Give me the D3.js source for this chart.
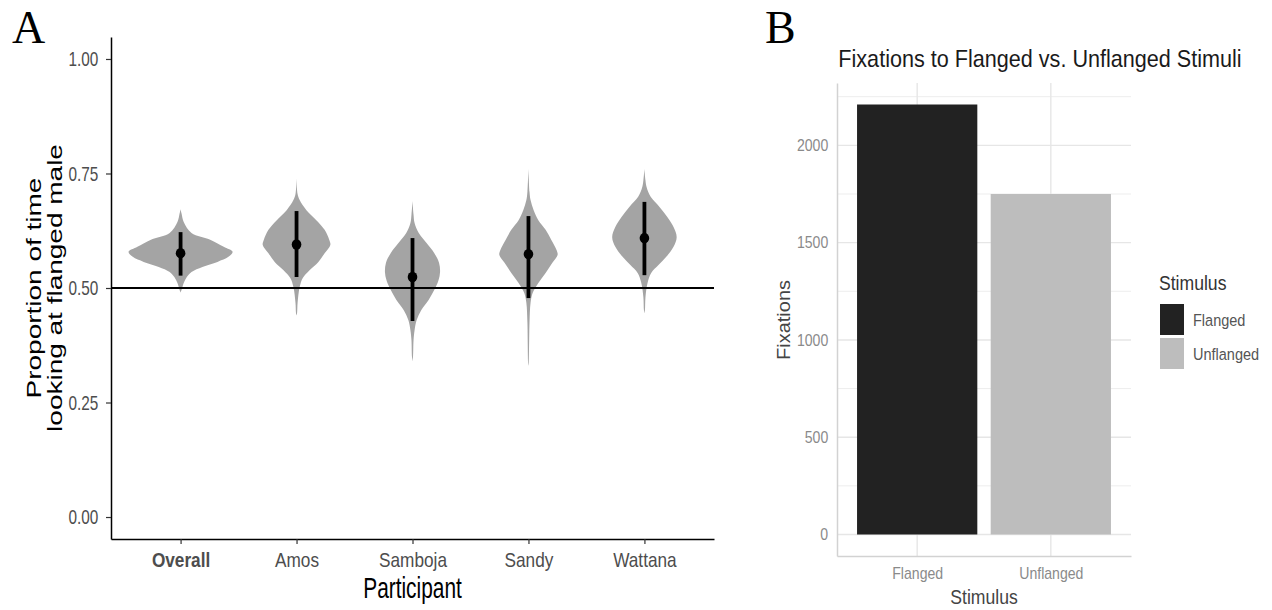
<!DOCTYPE html>
<html>
<head>
<meta charset="utf-8">
<script src="https://cdn.jsdelivr.net/npm/d3@7"></script>
<style>
  body { margin: 0; background: #fff; }
  svg text { font-family: "Liberation Sans", Arial, sans-serif; }
</style>
</head>
<body>
<svg id="chart" width="1272" height="610"></svg>
<script>
// ---- panel A data ----
const participants = ["Overall", "Amos", "Samboja", "Sandy", "Wattana"];
const means = [0.576, 0.595, 0.524, 0.574, 0.609];
const lower = [0.527, 0.524, 0.428, 0.478, 0.528];
const upper = [0.622, 0.668, 0.609, 0.657, 0.688];
const yTicksA = [0, 0.25, 0.5, 0.75, 1];

// violin profiles: [proportion, relative density]
const densOverall = [[0.672,0],[0.662,0.02],[0.644,0.06],[0.620,0.21],[0.605,0.58],[0.590,0.83],[0.579,1.0],[0.568,0.92],[0.557,0.71],[0.546,0.42],[0.535,0.21],[0.524,0.12],[0.511,0.06],[0.500,0.03],[0.490,0]];
const densAmos = [[0.740,0],[0.705,0.02],[0.692,0.06],[0.670,0.19],[0.648,0.38],[0.627,0.54],[0.605,0.63],[0.594,0.65],[0.576,0.54],[0.557,0.42],[0.539,0.25],[0.522,0.12],[0.502,0.06],[0.467,0.02],[0.445,0.01],[0.440,0]];
const densSamboja = [[0.690,0],[0.660,0.02],[0.642,0.04],[0.620,0.12],[0.598,0.27],[0.576,0.42],[0.555,0.51],[0.535,0.53],[0.517,0.50],[0.496,0.42],[0.474,0.31],[0.452,0.17],[0.430,0.08],[0.408,0.04],[0.386,0.02],[0.350,0.01],[0.340,0]];
const densSandy = [[0.760,0],[0.710,0.02],[0.692,0.04],[0.670,0.10],[0.648,0.19],[0.627,0.33],[0.605,0.44],[0.583,0.54],[0.572,0.56],[0.555,0.46],[0.533,0.33],[0.511,0.19],[0.489,0.08],[0.467,0.04],[0.424,0.02],[0.336,0.006],[0.330,0]];
const densWattana = [[0.760,0],[0.735,0.02],[0.721,0.04],[0.699,0.12],[0.677,0.29],[0.655,0.44],[0.633,0.56],[0.611,0.62],[0.590,0.56],[0.568,0.42],[0.550,0.27],[0.533,0.13],[0.511,0.06],[0.480,0.02],[0.452,0.01],[0.445,0]];
const violins = [densOverall, densAmos, densSamboja, densSandy, densWattana];

// ---- panel B data ----
const stimuli = ["Flanged", "Unflanged"];
const fixations = [2210, 1750];
const yTicksB = [0, 500, 1000, 1500, 2000];
const yMinorB = [250, 750, 1250, 1750, 2250];

const svg = d3.select('#chart');

// the source figure is squeezed horizontally, so text is too
function squeeze(sel, k) {
  sel.each(function() {
    const t = d3.select(this);
    const x = +t.attr('x') || 0, y = +t.attr('y') || 0;
    t.attr('x', 0).attr('y', 0)
     .attr('transform', 'translate(' + x + ',' + y + ') scale(' + k + ',1)');
  });
}

// ================= panel A =================
const kA = 0.73;
const yA = d3.scaleLinear().domain([-0.048, 1.048]).range([539, 37]);
const xA = d3.scalePoint().domain(participants).range([111, 714]).padding(0.6);
const wA = d3.scaleLinear().domain([0, 1]).range([0, 52]);

const violinArea = d3.area()
  .y(d => yA(d[0]))
  .x0(d => -wA(d[1]))
  .x1(d => wA(d[1]))
  .curve(d3.curveCatmullRom);

const gA = svg.append('g');

gA.selectAll('path.violin')
  .data(violins)
  .enter()
  .append('path')
  .attr('class', 'violin')
  .attr('transform', (d, i) => 'translate(' + xA(participants[i]) + ',0)')
  .attr('d', violinArea)
  .attr('fill', '#a4a4a4');

// reference line at 0.5
gA.append('line')
  .attr('x1', xA.range()[0]).attr('x2', xA.range()[1])
  .attr('y1', yA(0.5)).attr('y2', yA(0.5))
  .attr('stroke', '#000').attr('stroke-width', 2);

gA.selectAll('line.ci')
  .data(participants)
  .enter()
  .append('line')
  .attr('class', 'ci')
  .attr('x1', d => xA(d)).attr('x2', d => xA(d))
  .attr('y1', (d, i) => yA(lower[i]))
  .attr('y2', (d, i) => yA(upper[i]))
  .attr('stroke', '#000').attr('stroke-width', 3.8);

gA.selectAll('ellipse.mean')
  .data(participants)
  .enter()
  .append('ellipse')
  .attr('class', 'mean')
  .attr('cx', d => xA(d))
  .attr('cy', (d, i) => yA(means[i]))
  .attr('rx', 4.8).attr('ry', 5.2)
  .attr('fill', '#000');

const yAxisA = gA.append('g')
  .attr('transform', 'translate(111,0)')
  .call(d3.axisLeft(yA).tickValues(yTicksA).tickFormat(d3.format('.2f'))
        .tickSize(5).tickSizeOuter(0).tickPadding(12.5));
yAxisA.select('.domain').attr('stroke', '#000').attr('stroke-width', 1.5);
yAxisA.selectAll('.tick line').attr('stroke', '#333').attr('stroke-width', 1.2);
yAxisA.selectAll('.tick text')
  .attr('font-size', 21).attr('fill', '#4d4d4d')
  .attr('transform', 'scale(' + kA + ',1)');

const xAxisA = gA.append('g')
  .attr('transform', 'translate(0,539)')
  .call(d3.axisBottom(xA).tickSize(5).tickSizeOuter(0).tickPadding(8));
xAxisA.select('.domain').attr('stroke', '#000').attr('stroke-width', 1.5);
xAxisA.selectAll('.tick line').attr('stroke', '#333').attr('stroke-width', 1.2);
xAxisA.selectAll('.tick text')
  .attr('font-size', 21).attr('fill', '#4d4d4d')
  .attr('font-weight', d => d === 'Overall' ? 'bold' : 'normal')
  .attr('transform', 'scale(0.82,1)');

gA.append('text')
  .attr('x', 412.5).attr('y', 598)
  .attr('text-anchor', 'middle')
  .attr('font-size', 29).attr('fill', '#000')
  .text('Participant')
  .call(squeeze, 0.72);

const yTitleA = ['Proportion of time', 'looking at flanged male'];
gA.selectAll('text.ytitle')
  .data(yTitleA)
  .enter()
  .append('text')
  .attr('class', 'ytitle')
  .attr('text-anchor', 'middle')
  .attr('font-size', 28).attr('fill', '#000')
  .attr('transform', (d, i) => 'translate(' + (41 + i * 21) + ',288) scale(0.75,1) rotate(-90)')
  .text(d => d);

// ================= panel B =================
const kB = 0.88;
const yB = d3.scaleLinear()
  .domain([-0.05 * d3.max(fixations), 1.05 * d3.max(fixations)])
  .range([556, 83]);
const xB = d3.scalePoint().domain(stimuli).range([837, 1131]).padding(0.6);
const fillB = d3.scaleOrdinal().domain(stimuli).range(['#222222', '#bdbdbd']);
const barW = 0.9 * xB.step();

const gB = svg.append('g');

gB.selectAll('line.minor')
  .data(yMinorB)
  .enter()
  .append('line')
  .attr('x1', 837).attr('x2', 1131)
  .attr('y1', d => yB(d)).attr('y2', d => yB(d))
  .attr('stroke', '#ededed').attr('stroke-width', 1);

gB.selectAll('line.major')
  .data(yTicksB)
  .enter()
  .append('line')
  .attr('x1', 837).attr('x2', 1131)
  .attr('y1', d => yB(d)).attr('y2', d => yB(d))
  .attr('stroke', '#e6e6e6').attr('stroke-width', 1.4);

gB.selectAll('line.vgrid')
  .data(stimuli)
  .enter()
  .append('line')
  .attr('x1', d => xB(d)).attr('x2', d => xB(d))
  .attr('y1', 83).attr('y2', 556)
  .attr('stroke', '#e6e6e6').attr('stroke-width', 1.4);

gB.selectAll('rect.bar')
  .data(stimuli)
  .enter()
  .append('rect')
  .attr('class', 'bar')
  .attr('x', d => xB(d) - barW / 2)
  .attr('width', barW)
  .attr('y', (d, i) => yB(fixations[i]))
  .attr('height', (d, i) => yB(0) - yB(fixations[i]))
  .attr('fill', d => fillB(d));

const yAxisB = gB.append('g')
  .attr('transform', 'translate(837,0)')
  .call(d3.axisLeft(yB).tickValues(yTicksB).tickFormat(d3.format('d'))
        .tickSize(0).tickPadding(10));
yAxisB.select('.domain').attr('stroke', '#d2d2d2').attr('stroke-width', 1.5);
yAxisB.selectAll('.tick text')
  .attr('font-size', 16).attr('fill', '#8a8a8a')
  .attr('transform', 'scale(' + kB + ',1)');

const xAxisB = gB.append('g')
  .attr('transform', 'translate(0,556)')
  .call(d3.axisBottom(xB).tickSize(0).tickSizeOuter(0).tickPadding(12));
xAxisB.select('.domain').attr('stroke', '#d2d2d2').attr('stroke-width', 1.5);
xAxisB.selectAll('.tick text')
  .attr('font-size', 16).attr('fill', '#8a8a8a')
  .attr('transform', 'scale(' + kB + ',1)');

gB.append('text')
  .attr('x', 1040).attr('y', 67)
  .attr('text-anchor', 'middle')
  .attr('font-size', 24).attr('fill', '#1a1a1a')
  .text('Fixations to Flanged vs. Unflanged Stimuli')
  .call(squeeze, 0.9);

gB.append('text')
  .attr('x', 984).attr('y', 604)
  .attr('text-anchor', 'middle')
  .attr('font-size', 20).attr('fill', '#444')
  .text('Stimulus')
  .call(squeeze, kB);

gB.append('text')
  .attr('text-anchor', 'middle')
  .attr('font-size', 20).attr('fill', '#444')
  .attr('transform', 'translate(790,320) scale(' + kB + ',1) rotate(-90)')
  .text('Fixations');

// legend
const legend = gB.append('g').attr('transform', 'translate(1159,0)');
legend.append('text')
  .attr('x', 0).attr('y', 290)
  .attr('font-size', 20).attr('fill', '#333')
  .text('Stimulus')
  .call(squeeze, kB);

const keys = legend.selectAll('g.key')
  .data(stimuli)
  .enter()
  .append('g')
  .attr('class', 'key')
  .attr('transform', (d, i) => 'translate(0,' + (304 + i * 34) + ')');
keys.append('rect')
  .attr('x', 1).attr('width', 24).attr('height', 31)
  .attr('fill', d => fillB(d));
keys.append('text')
  .attr('x', 34).attr('y', 22)
  .attr('font-size', 16.5).attr('fill', '#555')
  .text(d => d)
  .call(squeeze, kB);

// panel letters
svg.append('text')
  .attr('x', 12).attr('y', 43)
  .style('font-family', '"Liberation Serif", "Times New Roman", serif')
  .attr('font-size', 46).attr('fill', '#000')
  .text('A');
svg.append('text')
  .attr('x', 765).attr('y', 43)
  .style('font-family', '"Liberation Serif", "Times New Roman", serif')
  .attr('font-size', 46).attr('fill', '#000')
  .text('B');
</script>
</body>
</html>
